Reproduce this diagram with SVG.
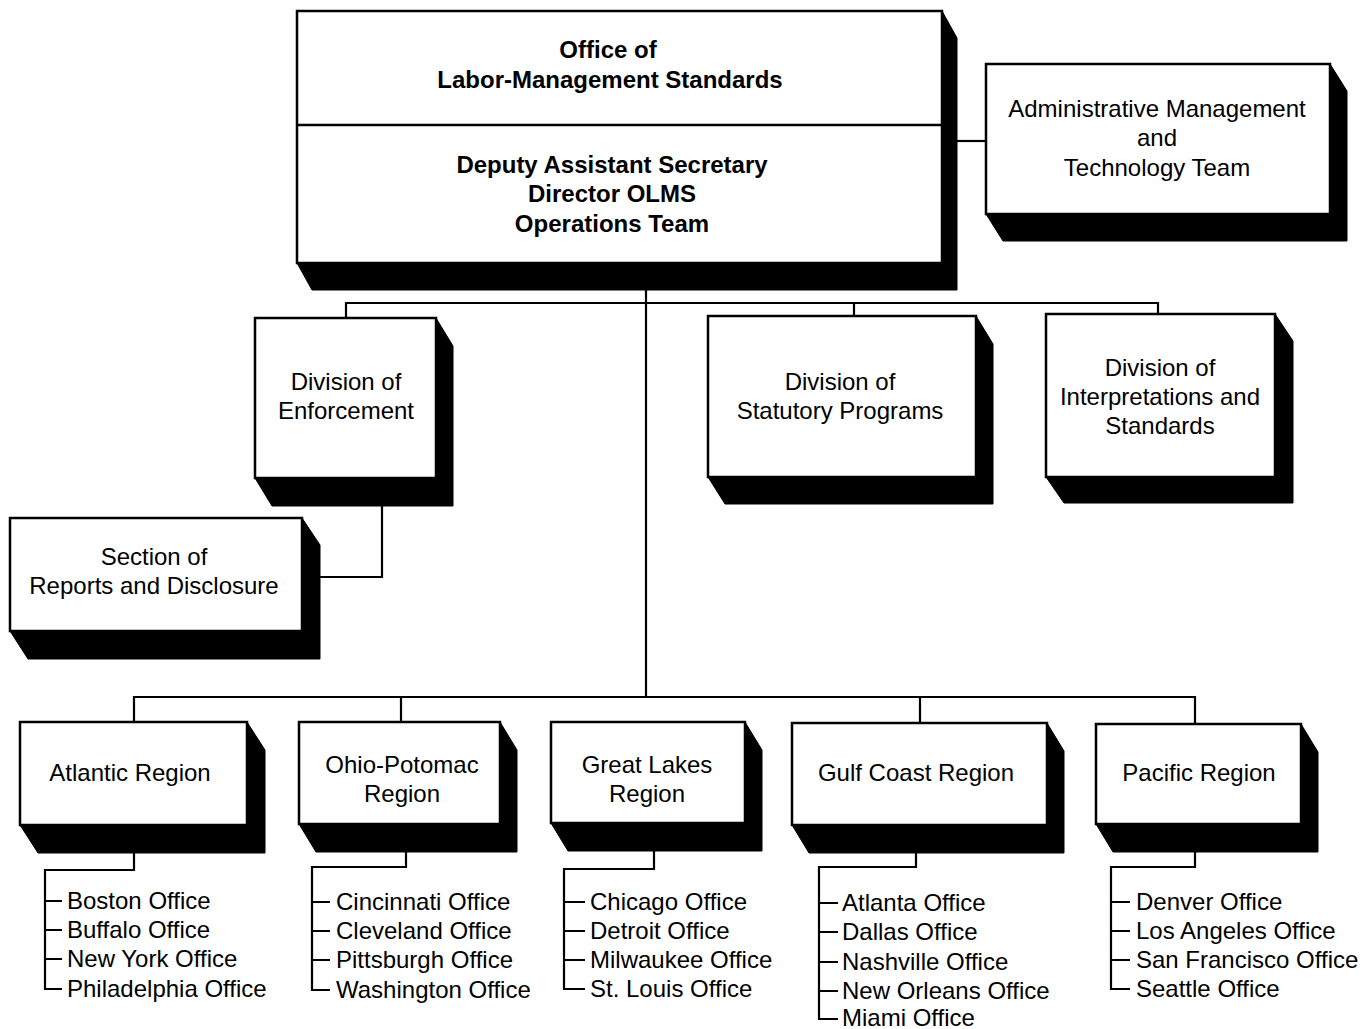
<svg xmlns="http://www.w3.org/2000/svg" width="1361" height="1029" viewBox="0 0 1361 1029">
<style>
.box{fill:#fff;stroke:#000;stroke-width:2.5}
.sh{fill:#000;stroke:#000;stroke-width:1}
.t{font-family:"Liberation Sans",Arial,sans-serif;font-size:24px;text-anchor:middle;fill:#000}
.b{font-weight:bold}
.l{text-anchor:start}
.c{fill:none;stroke:#000;stroke-width:2.2}
</style>
<rect width="1361" height="1029" fill="#fff"/>
<g id="connectors">
<path class="c" d="M957,141 H986"/>
<path class="c" d="M646,290 V697"/>
<path class="c" d="M346,318 V303 H1158 V314 M854,303 V316"/>
<path class="c" d="M382,506 V577 H320"/>
<path class="c" d="M134,722 V697 H1195 V724 M401,697 V722 M920,697 V723"/>
<path class="c" d="M134,853 V870 H45 V989 H62 M45,901 H62 M45,930 H62 M45,959 H62"/>
<path class="c" d="M406,852 V867 H312 V990 H330 M312,902 H330 M312,931 H330 M312,960 H330"/>
<path class="c" d="M654,851 V869 H564 V989 H585 M564,902 H585 M564,931 H585 M564,960 H585"/>
<path class="c" d="M916,853 V867 H819 V1019 H838 M819,903 H838 M819,932 H838 M819,962 H838 M819,991 H838"/>
<path class="c" d="M1195,852 V867 H1111 V989 H1130 M1111,902 H1130 M1111,931 H1130 M1111,960 H1130"/>
</g>
<g id="olms">
<polygon class="sh" points="942,11 957,38 957,290 312,290 297,263"/>
<rect class="box" x="297" y="11" width="645" height="252"/>
<line x1="297" y1="125" x2="942" y2="125" stroke="#000" stroke-width="2.5"/>
<text class="t b" x="608" y="58">Office of</text>
<text class="t b" x="610" y="88">Labor-Management Standards</text>
<text class="t b" x="612" y="173">Deputy Assistant Secretary</text>
<text class="t b" x="612" y="202">Director OLMS</text>
<text class="t b" x="612" y="232">Operations Team</text>
</g>
<g id="admin">
<polygon class="sh" points="1330,64 1347,91 1347,241 1003,241 986,214"/>
<rect class="box" x="986" y="64" width="344" height="150"/>
<text class="t" x="1157" y="117">Administrative Management</text>
<text class="t" x="1157" y="146">and</text>
<text class="t" x="1157" y="176">Technology Team</text>
</g>
<g id="enforcement">
<polygon class="sh" points="436,318 453,346 453,506 272,506 255,478"/>
<rect class="box" x="255" y="318" width="181" height="160"/>
<text class="t" x="346" y="390">Division of</text>
<text class="t" x="346" y="419">Enforcement</text>
</g>
<g id="statutory">
<polygon class="sh" points="976,316 993,344 993,504 725,504 708,477"/>
<rect class="box" x="708" y="316" width="268" height="161"/>
<text class="t" x="840" y="390">Division of</text>
<text class="t" x="840" y="419">Statutory Programs</text>
</g>
<g id="interpretations">
<polygon class="sh" points="1275,314 1293,341 1293,503 1064,503 1046,477"/>
<rect class="box" x="1046" y="314" width="229" height="163"/>
<text class="t" x="1160" y="376">Division of</text>
<text class="t" x="1160" y="405">Interpretations and</text>
<text class="t" x="1160" y="434">Standards</text>
</g>
<g id="reports">
<polygon class="sh" points="302,518 320,545 320,659 28,659 10,631"/>
<rect class="box" x="10" y="518" width="292" height="113"/>
<text class="t" x="154" y="565">Section of</text>
<text class="t" x="154" y="594">Reports and Disclosure</text>
</g>
<g id="atlantic">
<polygon class="sh" points="247,722 265,750 265,853 38,853 20,825"/>
<rect class="box" x="20" y="722" width="227" height="103"/>
<text class="t" x="130" y="781">Atlantic Region</text>
<text class="t l" x="67" y="909">Boston Office</text>
<text class="t l" x="67" y="938">Buffalo Office</text>
<text class="t l" x="67" y="967">New York Office</text>
<text class="t l" x="67" y="997">Philadelphia Office</text>
</g>
<g id="ohio">
<polygon class="sh" points="500,722 517,750 517,852 316,852 299,824"/>
<rect class="box" x="299" y="722" width="201" height="102"/>
<text class="t" x="402" y="773">Ohio-Potomac</text>
<text class="t" x="402" y="802">Region</text>
<text class="t l" x="336" y="910">Cincinnati Office</text>
<text class="t l" x="336" y="939">Cleveland Office</text>
<text class="t l" x="336" y="968">Pittsburgh Office</text>
<text class="t l" x="336" y="998">Washington Office</text>
</g>
<g id="greatlakes">
<polygon class="sh" points="745,722 762,750 762,851 568,851 551,823"/>
<rect class="box" x="551" y="722" width="194" height="101"/>
<text class="t" x="647" y="773">Great Lakes</text>
<text class="t" x="647" y="802">Region</text>
<text class="t l" x="590" y="910">Chicago Office</text>
<text class="t l" x="590" y="939">Detroit Office</text>
<text class="t l" x="590" y="968">Milwaukee Office</text>
<text class="t l" x="590" y="997">St. Louis Office</text>
</g>
<g id="gulfcoast">
<polygon class="sh" points="1047,723 1064,751 1064,853 809,853 792,825"/>
<rect class="box" x="792" y="723" width="255" height="102"/>
<text class="t" x="916" y="781">Gulf Coast Region</text>
<text class="t l" x="842" y="911">Atlanta Office</text>
<text class="t l" x="842" y="940">Dallas Office</text>
<text class="t l" x="842" y="970">Nashville Office</text>
<text class="t l" x="842" y="999">New Orleans Office</text>
<text class="t l" x="842" y="1026">Miami Office</text>
</g>
<g id="pacific">
<polygon class="sh" points="1301,724 1318,752 1318,852 1113,852 1096,824"/>
<rect class="box" x="1096" y="724" width="205" height="100"/>
<text class="t" x="1199" y="781">Pacific Region</text>
<text class="t l" x="1136" y="910">Denver Office</text>
<text class="t l" x="1136" y="939">Los Angeles Office</text>
<text class="t l" x="1136" y="968">San Francisco Office</text>
<text class="t l" x="1136" y="997">Seattle Office</text>
</g>
</svg>
